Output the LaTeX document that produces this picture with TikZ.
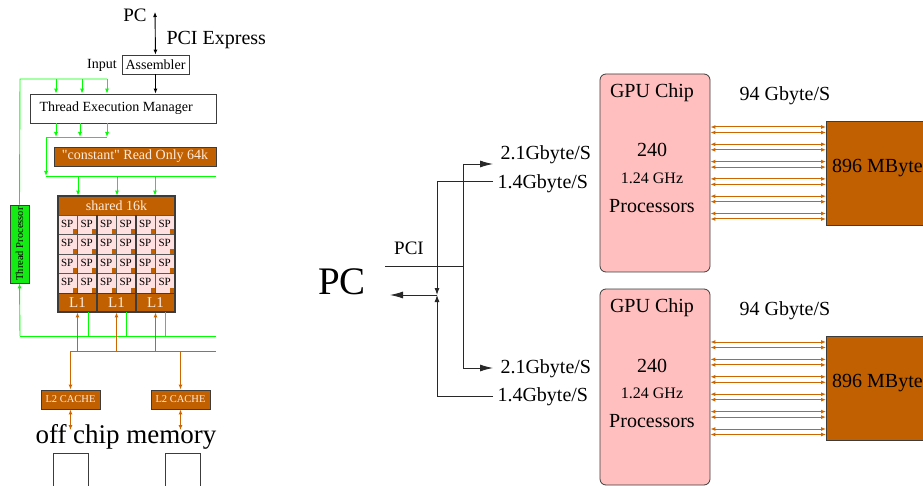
\documentclass[tikz,border=0pt]{standalone}
\usepackage{fontspec}
\setmainfont{Liberation Serif}
\newfontfamily\plainqfont{Liberation Serif}
\usetikzlibrary{arrows.meta}
\definecolor{brn}{RGB}{192,96,0}
\definecolor{org}{RGB}{204,102,0}
\definecolor{gpink}{RGB}{255,191,191}
\definecolor{sppink}{RGB}{255,224,224}
\definecolor{grn}{RGB}{0,255,0}
\definecolor{tpg}{RGB}{20,235,20}
\definecolor{dgray}{RGB}{60,60,60}
\definecolor{lnc}{RGB}{40,40,40}
\definecolor{btxt}{RGB}{255,236,222}
\begin{document}
\begin{tikzpicture}[x=1pt,y=-1pt,
  fs/.style={font=\fontsize{#1}{#1}\selectfont},
  box/.style={draw=dgray, line width=0.8pt, inner sep=0pt},
  bbox/.style={box, fill=brn, text=btxt},
  gl/.style={draw=grn, line width=0.9pt},
  gla/.style={gl, -{Latex[length=5pt,width=4pt]}},
  ol/.style={draw=org, line width=1pt},
  ola/.style={ol, -{Latex[length=5pt,width=4pt]}},
  olb/.style={ol, {Latex[length=5pt,width=4pt]}-{Latex[length=5pt,width=4pt]}},
  bl/.style={draw=black, line width=0.9pt},
  bla/.style={bl, -{Latex[length=5pt,width=4pt]}},
  blb/.style={bl, {Latex[length=5pt,width=4pt]}-{Latex[length=5pt,width=4pt]}},
  ln/.style={draw=lnc, line width=0.9pt},
  lnA/.style={ln, -{Latex[length=13pt,width=7pt]}},
  lnS/.style={ln, -{Latex[length=7pt,width=5pt]}},
  gpu/.style={draw=dgray, line width=0.8pt, fill=gpink, rounded corners=6pt, minimum width=110pt},
  mem/.style={draw=dgray, line width=0.8pt, fill=brn, minimum width=140pt, minimum height=104pt, inner sep=0pt}
]
\useasboundingbox (0,0) rectangle (923,486);

% ================= LEFT PANEL =================
\node[fs=19] (pcL) at (135,15) {PC};
\node[fs=20,anchor=west] (pciex) at (163,40) {PCI Express};
\node[box,fs=14,minimum width=67pt,minimum height=19pt] (asm) at (155.5,64.5) {Assembler};
\node[fs=14] (inp) at (102,65) {Input};
\coordinate (pctop) at (155,12);
\draw[blb] (pctop) -- (asm.north);
\node[box,minimum width=186pt,minimum height=29pt] (tem) at (123,108.5) {};
\node[fs=14,anchor=west] (temt) at (36,108.5) {Thread Execution Manager};
\draw[bla] (asm.south) -- (asm.south |- tem.north);

% thread processor
\node[box,fill=tpg,minimum width=78pt,minimum height=19pt,rotate=90,fs=10.5] (tp) at (19.5,244) {Thread Processor};

% green top
\coordinate (g0) at (20,79);
\coordinate (g1) at (107,79);
\draw[gl] (tp.east) -- (g0) -- (g1);
\foreach \xx in {56,82,107} \draw[gla] (\xx,79) -- (tem.north -| \xx,0);
\foreach \xx in {56,80,107} \draw[gla] (tem.south -| \xx,0) -- (\xx,137);
\coordinate (g2) at (46,137);
\coordinate (g3) at (46,176);
\coordinate (g4) at (216,176);
\draw[gl] (107,137) -- (g2);
\draw[gla] (g2) -- (g3);
\draw[gl] (g3) -- (g4);

% constant box
\node[bbox,fs=14,minimum width=162pt,minimum height=19pt] (cst) at (135,156.5) {{\plainqfont"}constant{\plainqfont"} Read Only 64k};

% shared block
\node[bbox,fs=14,minimum width=117pt,minimum height=19pt] (sh) at (116.5,205.5) {shared 16k};
\foreach \xx in {78,117,155} \draw[gla] (\xx,176) -- (sh.north -| \xx,0);
\foreach \c in {0,...,5}{
  \foreach \r in {0,...,3}{
    \pgfmathsetmacro\cx{58+19.5*\c}
    \pgfmathsetmacro\cy{215+19.5*\r}
    \draw[draw=gray!70!black, line width=0.5pt, fill=sppink] (\cx,\cy) rectangle ++(19.5,19.5);
    \fill[brn] (\cx+14.5,\cy+14.5) rectangle ++(5,5);
    \node[fs=11,inner sep=0pt] (sp\c\r) at (\cx+9.2,\cy+8.7) {SP};
  }
}
\node[bbox,fs=15,minimum width=39pt,minimum height=19pt] (l1a) at (77.5,302.5) {L1};
\node[bbox,fs=15,minimum width=39pt,minimum height=19pt] (l1b) at (116.5,302.5) {L1};
\node[bbox,fs=15,minimum width=39pt,minimum height=19pt] (l1c) at (155.5,302.5) {L1};
\draw[dgray,line width=1.6pt] (97,215) -- (97,312);
\draw[dgray,line width=1.6pt] (136,215) -- (136,312);
\draw[dgray,line width=1.2pt] (58,196) rectangle (175,312);

% green bottom
\coordinate (g5) at (20,336);
\coordinate (g6) at (216,336);
\draw[gla] (g5) -- (tp.west);
\draw[gl] (g5) -- (g6);
\draw[gl] (l1a.south -| 88,0) -- (88,336);
\draw[gl] (l1b.south -| 126,0) -- (126,336);
\draw[gl] (l1c.south -| 165,0) -- (165,336);

% orange bus
\node[bbox,fs=10.5,minimum width=59pt,minimum height=19pt] (l2a) at (70.5,399.5) {L2 CACHE};
\node[bbox,fs=10.5,minimum width=59pt,minimum height=19pt] (l2b) at (180.5,399.5) {L2 CACHE};
\coordinate (o0) at (70.5,351);
\coordinate (o1) at (216,351);
\draw[ol] (o0) -- (o1);
\draw[ola] (l1a.south |- o0) -- (l1a.south);
\draw[ola] (l1b.south |- o0) -- (l1b.south);
\draw[ola] (l1c.south |- o0) -- (l1c.south);
\draw[ola] (o0) -- (l2a.north);
\draw[ola] (l2b.north |- o0) -- (l2b.north);
\coordinate (m1) at (70.5,430);
\coordinate (m2) at (180.5,430);
\draw[olb] (l2a.south) -- (m1);
\draw[olb] (l2b.south) -- (m2);
\node[fs=27] (ocm) at (126,437) {off chip memory};
\node[box,minimum width=35pt,minimum height=45pt,anchor=north west] (ocm1) at (53,453) {};
\node[box,minimum width=35pt,minimum height=45pt,anchor=north west] (ocm2) at (165,453) {};

% ================= RIGHT PANEL =================
\node[fs=39] (pcR) at (342,282) {PC};
\node[fs=19] (pci) at (409,248) {PCI};
\coordinate (pa) at (385,266);
\coordinate (pb) at (463,266);
\coordinate (v1t) at (463,164);
\coordinate (v1b) at (463,368);
\coordinate (a1t) at (493,164);
\coordinate (a1b) at (493,368);
\coordinate (v2t) at (437,181);
\coordinate (v2b) at (437,396);
\coordinate (v2m) at (437,295);
\coordinate (h2t) at (493,181);
\coordinate (h2b) at (493,396);
\coordinate (pcin) at (390,295);
\draw[ln] (pa) -- (pb);
\draw[ln] (v1t) -- (v1b);
\draw[lnA] (v1t) -- (a1t);
\draw[lnA] (v1b) -- (a1b);
\draw[lnS] (h2t) -- (v2t) -- (v2m);
\draw[lnS] (h2b) -- (v2b) -- (v2m);
\draw[lnA] (v2m) -- (pcin);
\node[fs=20,anchor=west] (r1) at (497,155) {2.1Gbyte/S};
\node[fs=20,anchor=west] (r2) at (494,184) {1.4Gbyte/S};
\node[fs=20,anchor=west] (r3) at (497,369) {2.1Gbyte/S};
\node[fs=20,anchor=west] (r4) at (494,397) {1.4Gbyte/S};

% GPU 1
\node[gpu,minimum height=198pt] (gpu1) at (655,173) {};
\node[fs=20] (g1a) at (652,93) {GPU Chip};
\node[fs=20] (g1b) at (652,150) {240};
\node[fs=16] (g1c) at (652,178) {1.24 GHz};
\node[fs=20] (g1d) at (652,206) {Processors};
\node[fs=20] (bw1) at (785,96) {94 Gbyte/S};
\node[mem,anchor=north west] (mem1) at (826,121) {};
\node[fs=20,anchor=west,inner sep=0pt] (mem1t) at (832,168) {896 MByte};
\foreach \i in {0,...,5}{
  \pgfmathsetmacro\ya{127+17.3*\i}
  \pgfmathsetmacro\yb{\ya+5.5}
  \draw[olb] (gpu1.east |- 0,\ya) -- (mem1.west |- 0,\ya);
  \draw[olb] (gpu1.east |- 0,\yb) -- (mem1.west |- 0,\yb);
}

% GPU 2
\node[gpu,minimum height=196pt] (gpu2) at (655,387) {};
\node[fs=20] (g2a) at (652,308) {GPU Chip};
\node[fs=20] (g2b) at (652,366) {240};
\node[fs=16] (g2c) at (652,393) {1.24 GHz};
\node[fs=20] (g2d) at (652,421) {Processors};
\node[fs=20] (bw2) at (785,311) {94 Gbyte/S};
\node[mem,anchor=north west] (mem2) at (826,336) {};
\node[fs=20,anchor=west,inner sep=0pt] (mem2t) at (832,383) {896 MByte};
\foreach \i in {0,...,5}{
  \pgfmathsetmacro\ya{342+17.4*\i}
  \pgfmathsetmacro\yb{\ya+5.5}
  \draw[olb] (gpu2.east |- 0,\ya) -- (mem2.west |- 0,\ya);
  \draw[olb] (gpu2.east |- 0,\yb) -- (mem2.west |- 0,\yb);
}
\end{tikzpicture}
\end{document}
